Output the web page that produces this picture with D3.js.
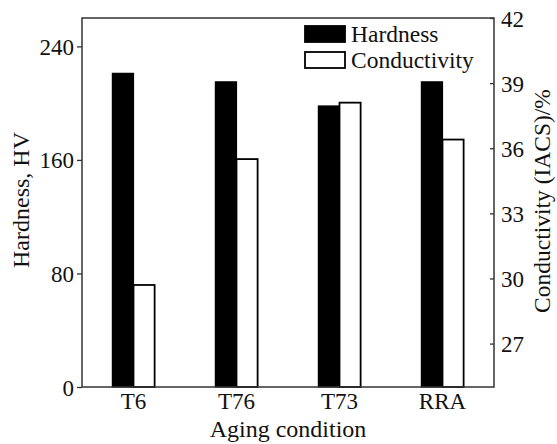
<!DOCTYPE html>
<html>
<head>
<meta charset="utf-8">
<script src="https://cdn.jsdelivr.net/npm/d3@7"></script>
<style>
  body { margin: 0; background: #fff; }
  text { font-family: "Liberation Serif", "Times New Roman", serif; fill: #111; }
</style>
</head>
<body>
<div id="chart"></div>
<script>
// Data
const conditions = ["T6", "T76", "T73", "RRA"];
const hardness = [221, 215, 198, 215];
const conductivity = [29.7, 35.5, 38.1, 36.4];
const hardnessTicks = [0, 80, 160, 240];
const conductivityTicks = [27, 30, 33, 36, 39, 42];
const seriesNames = ["Hardness", "Conductivity"];

const W = 557, H = 444;
const margin = {top: 18, right: 63, bottom: 57, left: 82};

const svg = d3.select("#chart").append("svg")
    .attr("width", W)
    .attr("height", H);

const x = d3.scaleBand()
    .domain(conditions)
    .range([margin.left, W - margin.right])
    .paddingInner(0.59)
    .paddingOuter(0.295);

const x1 = d3.scaleBand().domain(seriesNames).range([0, x.bandwidth()]);

const yL = d3.scaleLinear().domain([0, 260]).range([H - margin.bottom, margin.top]);
const yR = d3.scaleLinear().domain([25, 42]).range([H - margin.bottom, margin.top]);

// bars
const g = svg.append("g");
conditions.forEach((c, i) => {
    g.append("rect")
        .attr("x", x(c) + x1("Hardness"))
        .attr("y", yL(hardness[i]))
        .attr("width", x1.bandwidth())
        .attr("height", yL(0) - yL(hardness[i]))
        .attr("fill", "#000")
        .attr("stroke", "#000")
        .attr("stroke-width", 1.2);
    g.append("rect")
        .attr("x", x(c) + x1("Conductivity"))
        .attr("y", yR(conductivity[i]))
        .attr("width", x1.bandwidth())
        .attr("height", yR(25) - yR(conductivity[i]))
        .attr("fill", "#fff")
        .attr("stroke", "#000")
        .attr("stroke-width", 1.8);
});

// frame
svg.append("rect")
    .attr("x", margin.left)
    .attr("y", margin.top)
    .attr("width", W - margin.left - margin.right)
    .attr("height", H - margin.top - margin.bottom)
    .attr("fill", "none")
    .attr("stroke", "#333")
    .attr("stroke-width", 1.5);

// left axis
const axL = svg.append("g")
    .attr("transform", `translate(${margin.left},0)`)
    .call(d3.axisLeft(yL).tickValues(hardnessTicks).tickSize(5).tickPadding(3));
axL.select(".domain").remove();
axL.selectAll("line").attr("stroke", "#333").attr("stroke-width", 1.3);
axL.selectAll("text").style("font-size", "23px").attr("dy", "0.35em");

// right axis (ticks inward, labels outside)
const axR = svg.append("g")
    .attr("transform", `translate(${W - margin.right},0)`)
    .call(d3.axisRight(yR).tickValues(conductivityTicks).tickSize(-4).tickPadding(7));
axR.select(".domain").remove();
axR.selectAll("line").attr("stroke", "#333").attr("stroke-width", 1.3);
axR.selectAll("text").style("font-size", "23px").attr("dy", "0.35em");

// bottom category labels
const axB = svg.append("g")
    .attr("transform", `translate(0,${H - margin.bottom})`)
    .call(d3.axisBottom(x).tickSize(0).tickPadding(6));
axB.select(".domain").remove();
axB.selectAll("text").style("font-size", "23px").attr("dy", "0.71em");

// axis titles
svg.append("text")
    .attr("x", (margin.left + W - margin.right) / 2)
    .attr("y", 437)
    .attr("text-anchor", "middle")
    .style("font-size", "24px")
    .text("Aging condition");

svg.append("text")
    .attr("transform", `translate(29,200) rotate(-90)`)
    .attr("text-anchor", "middle")
    .style("font-size", "24px")
    .text("Hardness, HV");

svg.append("text")
    .attr("transform", `translate(550,201) rotate(-90)`)
    .attr("text-anchor", "middle")
    .style("font-size", "23.5px")
    .text("Conductivity (IACS)/%");

// legend
const legend = svg.append("g").attr("transform", "translate(305,26)");
seriesNames.forEach((s, i) => {
    legend.append("rect")
        .attr("x", 0)
        .attr("y", i * 26)
        .attr("width", 40)
        .attr("height", 16)
        .attr("fill", i === 0 ? "#000" : "#fff")
        .attr("stroke", "#000")
        .attr("stroke-width", 1.8);
    legend.append("text")
        .attr("x", 46)
        .attr("y", i * 26 + 16)
        .style("font-size", "23.5px")
        .text(s);
});
</script>
</body>
</html>
